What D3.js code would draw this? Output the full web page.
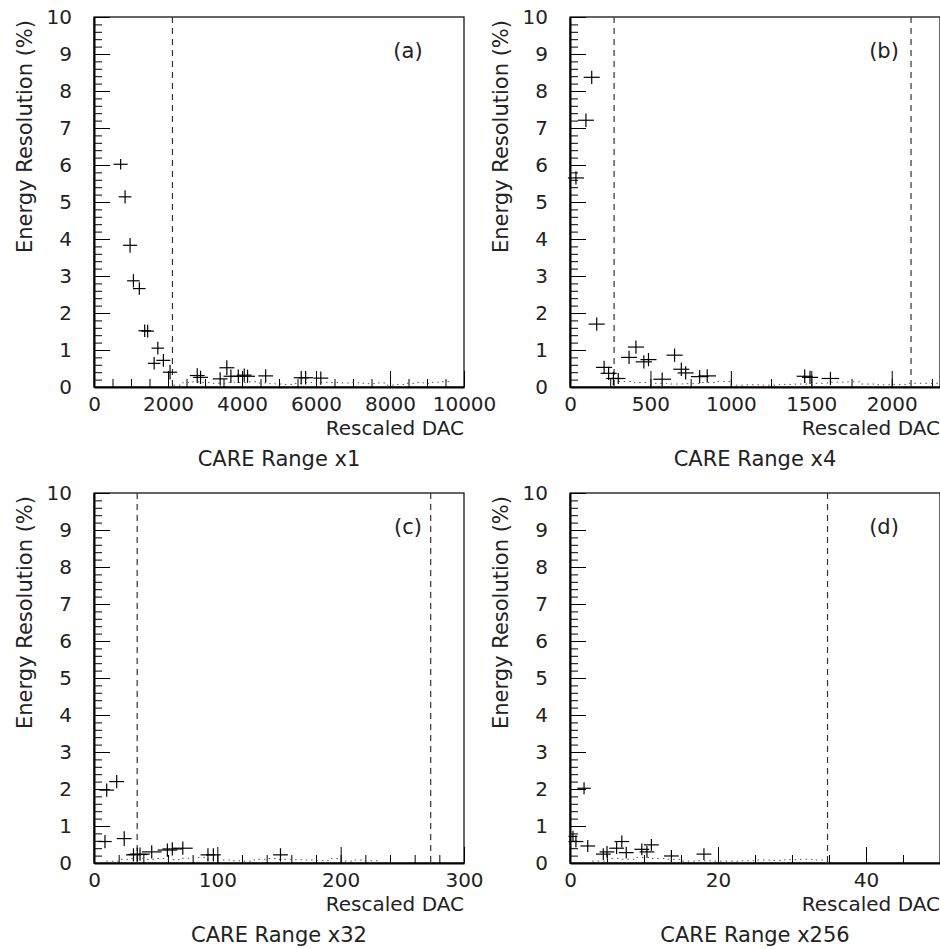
<!DOCTYPE html>
<html>
<head>
<meta charset="utf-8">
<script src="https://cdn.jsdelivr.net/npm/d3@7"></script>
<style>
  body { margin: 0; background: #fff; }
  svg text { font-family: "DejaVu Sans", sans-serif; fill: #222; }
</style>
</head>
<body>
<svg id="chart" width="940" height="949"></svg>
<script>
// points: [x, y, xerr, yerr]
const ptsA = [
  [720, 6.02, 190, 0.14], [840, 5.14, 170, 0.18], [975, 3.83, 190, 0.2],
  [1065, 2.87, 170, 0.18], [1225, 2.66, 170, 0.17], [1370, 1.52, 170, 0.17],
  [1450, 1.51, 170, 0.17], [1725, 1.05, 170, 0.17], [1625, 0.64, 170, 0.17],
  [1875, 0.72, 190, 0.17], [2055, 0.40, 190, 0.2], [2790, 0.31, 200, 0.2],
  [2880, 0.26, 200, 0.18], [3410, 0.22, 200, 0.18], [3590, 0.52, 200, 0.2],
  [3700, 0.29, 200, 0.18], [3900, 0.29, 200, 0.18], [4060, 0.32, 200, 0.18],
  [4150, 0.29, 200, 0.18], [4640, 0.30, 200, 0.18], [5600, 0.25, 200, 0.18],
  [5720, 0.25, 200, 0.18], [6130, 0.24, 200, 0.18]
];
const ptsB = [
  [37, 5.65, 50, 0.18], [99, 7.21, 50, 0.18], [135, 8.37, 50, 0.18],
  [166, 1.70, 50, 0.18], [212, 0.53, 50, 0.18], [240, 0.37, 50, 0.18],
  [270, 0.23, 45, 0.18], [300, 0.23, 45, 0.15], [367, 0.80, 50, 0.18],
  [410, 1.08, 50, 0.18], [459, 0.68, 50, 0.18], [488, 0.74, 50, 0.18],
  [573, 0.21, 55, 0.18], [650, 0.86, 50, 0.18], [692, 0.48, 50, 0.18],
  [719, 0.38, 50, 0.18], [806, 0.28, 55, 0.18], [853, 0.30, 55, 0.18],
  [1459, 0.29, 50, 0.18], [1492, 0.26, 50, 0.18], [1619, 0.23, 55, 0.18]
];
const ptsC = [
  [8.9, 0.58, 5.5, 0.18], [10.3, 1.97, 6, 0.18], [18.4, 2.20, 6, 0.18],
  [24.5, 0.66, 6, 0.2], [32, 0.22, 6, 0.18], [35.1, 0.23, 8, 0.18],
  [37.3, 0.24, 8, 0.18], [46.8, 0.30, 8, 0.18], [59.5, 0.35, 8, 0.18],
  [63.5, 0.38, 8, 0.18], [72, 0.40, 8, 0.18], [92.4, 0.22, 6, 0.18],
  [96.8, 0.22, 6, 0.18], [151.2, 0.22, 6, 0.18]
];
const ptsD = [
  [0.4, 0.72, 0.6, 0.15], [0.8, 0.58, 1.0, 0.16], [1.9, 2.02, 0.9, 0.16],
  [2.4, 0.46, 1.0, 0.16], [4.5, 0.24, 1.0, 0.16], [5.0, 0.30, 1.0, 0.16],
  [6.3, 0.40, 1.0, 0.16], [7.0, 0.58, 1.0, 0.16], [7.6, 0.28, 1.0, 0.16],
  [9.7, 0.37, 1.0, 0.16], [10.4, 0.30, 1.0, 0.16], [11.0, 0.49, 1.0, 0.16],
  [13.7, 0.19, 1.0, 0.16], [18.1, 0.24, 1.0, 0.16]
];

// dotted reference curves: [x, y]
const dotsA = [
  [2150, 0.05], [2400, 0.12], [2650, 0.14], [2900, 0.12], [3150, 0.10], [3400, 0.10],
  [3650, 0.13], [3900, 0.12], [4150, 0.14], [4400, 0.11], [4650, 0.09], [4900, 0.08],
  [5150, 0.07], [5400, 0.10], [5650, 0.12], [5900, 0.11], [6150, 0.13], [6400, 0.12],
  [6650, 0.11], [6900, 0.12], [7150, 0.10], [7400, 0.09], [7650, 0.11], [7900, 0.05],
  [8150, 0.07], [8400, 0.10], [8650, 0.12], [8900, 0.10], [9150, 0.13], [9400, 0.15],
  [9650, 0.10]
];
const dotsB = [
  [300, 0.15], [400, 0.12], [500, 0.10], [600, 0.08], [700, 0.09], [800, 0.12],
  [900, 0.15], [1000, 0.05], [1100, 0.06], [1200, 0.05], [1300, 0.07], [1400, 0.08],
  [1500, 0.10], [1600, 0.13], [1700, 0.14], [1800, 0.08], [1900, 0.06], [2000, 0.07],
  [2100, 0.10], [2200, 0.10], [2300, 0.06]
];
const dotsC = [
  [10, 0.05], [20, 0.10], [30, 0.12], [40, 0.10], [50, 0.12], [60, 0.09], [70, 0.13],
  [80, 0.15], [90, 0.10], [100, 0.08], [110, 0.06], [120, 0.05], [130, 0.10],
  [140, 0.12], [150, 0.10], [160, 0.09], [170, 0.08], [180, 0.07], [190, 0.12],
  [200, 0.05], [210, 0.08], [220, 0.06], [230, 0.05]
];
const dotsD = [
  [3, 0.05], [5, 0.12], [7, 0.10], [9, 0.15], [11, 0.12], [13, 0.10], [15, 0.05],
  [17, 0.06], [19, 0.05], [21, 0.05], [23, 0.06], [25, 0.08], [27, 0.07], [29, 0.09],
  [31, 0.10], [33, 0.08], [34.5, 0.05]
];

// dashed range limits
const cutsA = [2120];
const cutsB = [274, 2120];
const cutsC = [35, 273];
const cutsD = [34.8];

const xMaxes = [10000, 2300, 300, 50];
const xMajors = [2000, 500, 100, 20];
const xMinors = [500, 250, 20, 5];
const panelLabels = ["(a)", "(b)", "(c)", "(d)"];
const rangeTitles = ["CARE Range x1", "CARE Range x4", "CARE Range x32", "CARE Range x256"];
const yTicks = d3.range(0, 11, 1);
const yMinorTicks = d3.range(0, 10.01, 0.2);

const panels = [
  { pts: ptsA, dots: dotsA, cuts: cutsA, left: 94, top: 17 },
  { pts: ptsB, dots: dotsB, cuts: cutsB, left: 570, top: 17 },
  { pts: ptsC, dots: dotsC, cuts: cutsC, left: 94, top: 493 },
  { pts: ptsD, dots: dotsD, cuts: cutsD, left: 570, top: 493 }
];
const W = 370, H = 370;
const svg = d3.select("#chart");

panels.forEach((p, i) => {
  const g = svg.append("g").attr("transform", `translate(${p.left},${p.top})`);
  const x = d3.scaleLinear().domain([0, xMaxes[i]]).range([0, W]);
  const y = d3.scaleLinear().domain([0, 10]).range([H, 0]);

  // frame
  g.append("rect").attr("width", W).attr("height", H)
    .attr("fill", "none").attr("stroke", "#000").attr("stroke-width", 1.2);

  // y axis: minor + major ticks pointing inward
  g.append("g").call(d3.axisLeft(y).tickValues(yMinorTicks).tickSizeInner(-8).tickSizeOuter(0).tickFormat(""))
    .call(a => a.select(".domain").attr("stroke-width", 2));
  g.append("g").call(d3.axisLeft(y).tickValues(yTicks).tickSizeInner(-16).tickSizeOuter(0).tickPadding(22).tickFormat(d3.format("d")))
    .call(a => a.select(".domain").remove())
    .call(a => a.selectAll("text").attr("font-size", 20).attr("font-family", null).attr("fill", "#222"));

  // x axis
  const xg = g.append("g").attr("transform", `translate(0,${H})`);
  xg.append("g").call(d3.axisBottom(x).tickValues(d3.range(0, xMaxes[i] + 1e-9, xMinors[i])).tickSizeInner(-8).tickSizeOuter(0).tickFormat(""))
    .call(a => a.select(".domain").attr("stroke-width", 2));
  xg.append("g").call(d3.axisBottom(x).tickValues(d3.range(0, xMaxes[i] + 1e-9, xMajors[i])).tickSizeInner(-16).tickSizeOuter(0).tickPadding(10).tickFormat(d3.format("d")))
    .call(a => a.select(".domain").remove())
    .call(a => a.selectAll("text").attr("font-size", 20).attr("font-family", null).attr("fill", "#222"));
  g.selectAll(".tick line").attr("stroke", "#000");

  // dotted curve
  g.append("path").datum(p.dots)
    .attr("d", d3.line().x(d => x(d[0])).y(d => y(d[1])).curve(d3.curveStepAfter))
    .attr("fill", "none").attr("stroke", "#555").attr("stroke-width", 1)
    .attr("stroke-dasharray", "1.5,4");

  // dashed cut lines
  g.selectAll(".cut").data(p.cuts).join("line")
    .attr("x1", d => x(d)).attr("x2", d => x(d))
    .attr("y1", 0).attr("y2", H)
    .attr("stroke", "#333").attr("stroke-width", 1.2).attr("stroke-dasharray", "6,5");

  // error-bar crosses
  const c = g.selectAll(".pt").data(p.pts).join("g").attr("stroke", "#000").attr("stroke-width", 1.2);
  c.append("line")
    .attr("x1", d => x(d[0] - d[2])).attr("x2", d => x(d[0] + d[2]))
    .attr("y1", d => y(d[1])).attr("y2", d => y(d[1]));
  c.append("line")
    .attr("x1", d => x(d[0])).attr("x2", d => x(d[0]))
    .attr("y1", d => y(d[1] - d[3])).attr("y2", d => y(d[1] + d[3]));

  // texts
  g.append("text").attr("text-anchor", "end").attr("font-size", 21)
    .attr("transform", `translate(-62,3) rotate(-90)`).text("Energy Resolution (%)");
  g.append("text").attr("text-anchor", "end").attr("font-size", 20)
    .attr("x", W).attr("y", H + 48).text("Rescaled DAC");
  g.append("text").attr("text-anchor", "middle").attr("font-size", 21)
    .attr("x", W / 2).attr("y", H + 79).text(rangeTitles[i]);
  g.append("text").attr("text-anchor", "middle").attr("font-size", 21)
    .attr("x", 314).attr("y", 41).text(panelLabels[i]);
});
</script>
</body>
</html>
